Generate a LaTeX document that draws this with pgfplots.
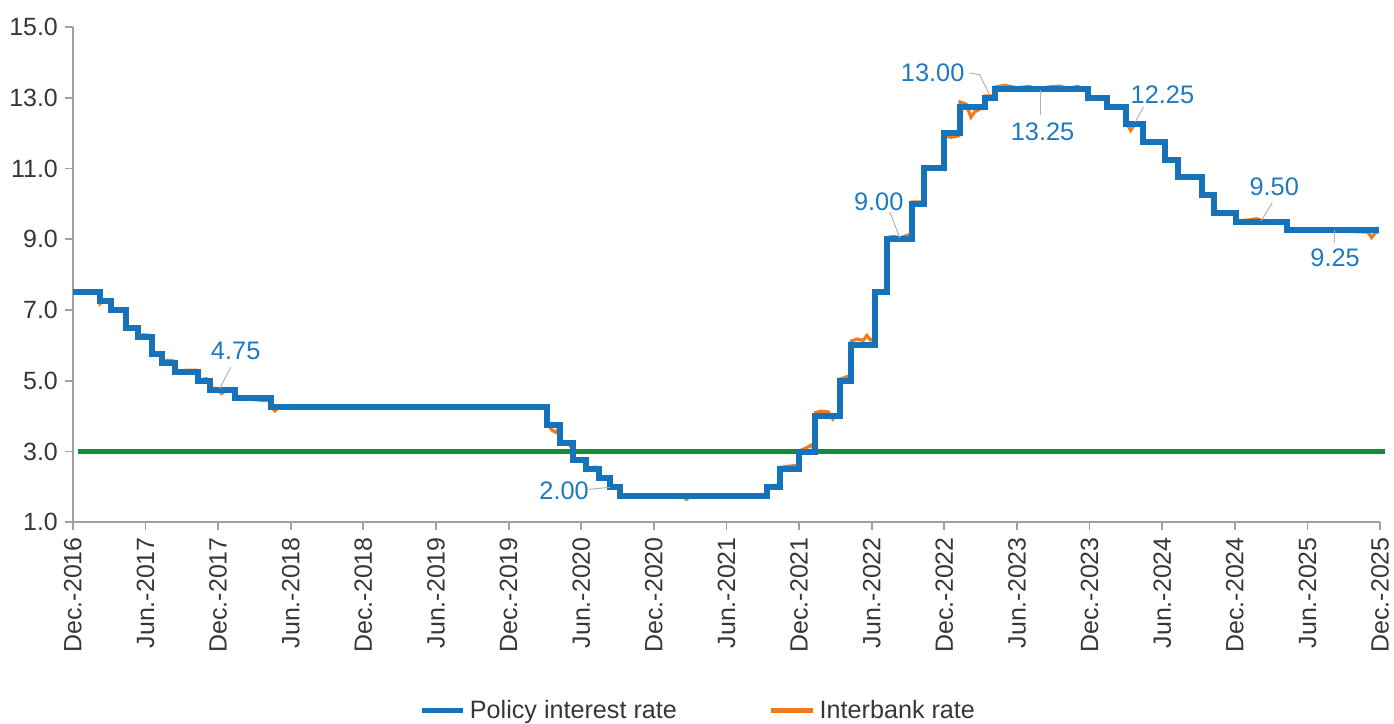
\documentclass[border=0pt]{standalone}
\usepackage{fontspec}
\setmainfont{Liberation Sans}
\usepackage{pgfplots}
\usepackage{pgfplotstable}
\pgfplotsset{compat=1.18}

\definecolor{policyblue}{RGB}{22,114,185}
\definecolor{notecolor}{RGB}{30,122,192}
\definecolor{ibkorange}{RGB}{240,122,28}
\definecolor{targetgreen}{RGB}{18,140,62}
\definecolor{axisgray}{RGB}{160,160,160}
\definecolor{labelgray}{RGB}{55,55,55}

% months after Dec-2016, rate in %
\pgfplotstableread{
m      r
0      7.50
2.23   7.25
3.14   7.00
4.37   6.50
5.36   6.25
6.52   5.75
7.34   5.50
8.42   5.25
10.31  5.00
11.30  4.75
13.37  4.50
16.34  4.25
39.19  3.75
40.26  3.25
41.34  2.75
42.41  2.50
43.48  2.25
44.39  2.00
45.21  1.75
57.34  2.00
58.42  2.50
59.98  3.00
61.30  4.00
63.37  5.00
64.27  6.00
66.25  7.50
67.24  9.00
69.31  10.00
70.30  11.00
71.95  12.00
73.27  12.75
75.33  13.00
76.16  13.25
83.91  13.00
85.40  12.75
87.05  12.25
88.45  11.75
90.26  11.25
91.34  10.75
93.32  10.25
94.31  9.75
96.12  9.50
100.33 9.25
107.9  9.25
}\policy

\pgfplotstableread{
m      r
0      7.52
2.2    7.52
2.25   7.18
2.5    7.25
3.1    7.25
3.16   7.02
4.35   7.00
4.4    6.52
5.3    6.50
5.4    6.25
5.8    6.30
6.4    6.28
6.55   5.78
7.3    5.75
7.38   5.52
7.8    5.58
8.3    5.56
8.45   5.27
9.5    5.30
10.2   5.30
10.35  5.02
11.0   5.06
11.28  5.02
11.35  4.75
12.0   4.72
12.3   4.64
12.6   4.72
13.3   4.74
13.4   4.50
14.5   4.48
15.5   4.45
16.3   4.43
16.4   4.25
16.7   4.15
17.0   4.25
20     4.27
25     4.26
30     4.27
35     4.26
39.1   4.26
39.25  3.75
39.6   3.60
39.9   3.54
40.2   3.70
40.3   3.25
41.0   3.20
41.2   3.12
41.38  2.76
42.1   2.80
42.38  2.76
42.45  2.52
43.2   2.56
43.45  2.52
43.5   2.26
44.35  2.25
44.42  2.02
45.15  2.00
45.25  1.76
48     1.75
50.4   1.72
50.7   1.65
51.0   1.74
54     1.77
57.3   1.77
57.4   2.03
58.38  2.05
58.45  2.55
59.0   2.58
59.6   2.60
59.95  2.58
60.02  3.02
60.6   3.10
61.0   3.18
61.28  3.05
61.35  4.10
61.8   4.14
62.4   4.12
62.8   3.92
63.0   4.05
63.33  4.05
63.4   5.05
64.0   5.12
64.25  5.10
64.3   6.12
64.8   6.18
65.3   6.14
65.6   6.28
65.9   6.15
66.2   6.20
66.28  7.52
67.2   7.55
67.28  9.05
67.8   9.08
68.4   9.04
69.0   9.12
69.28  9.08
69.35  10.05
70.28  10.05
70.35  11.00
71.9   10.98
72.0   11.95
72.5   11.88
73.2   11.92
73.3   12.88
73.8   12.82
74.2   12.45
74.5   12.60
75.3   12.75
75.38  13.05
76.1   13.05
76.2   13.30
77     13.35
78     13.28
79     13.32
80     13.20
80.5   13.30
81.5   13.33
82.3   13.26
83.0   13.32
83.85  13.22
83.95  12.97
85.3   12.97
85.45  12.76
87.0   12.75
87.1   12.25
87.4   12.08
87.7   12.24
88.4   12.24
88.5   11.76
90.2   11.75
90.3   11.26
91.3   11.26
91.4   10.76
93.3   10.76
93.35  10.26
94.3   10.25
94.35  9.76
96.1   9.76
96.15  9.52
97.3   9.55
97.8   9.58
98.3   9.52
100.3  9.50
100.35 9.26
103    9.24
104.2  9.30
105.5  9.22
107.0  9.20
107.3  9.05
107.6  9.18
107.9  9.22
}\interbank

\begin{document}
\begin{tikzpicture}
\useasboundingbox (-36.5pt,-101pt) rectangle (661.5pt,261.5pt);
\begin{axis}[
  scale only axis,
  width=654.5pt, height=248pt,
  xmin=0, xmax=108, ymin=1, ymax=15,
  axis x line*=bottom, axis y line*=left,
  axis line style={draw=axisgray, line width=0.9pt},
  xtick={0,6,...,108},
  xticklabels={Dec.-2016,Jun.-2017,Dec.-2017,Jun.-2018,Dec.-2018,Jun.-2019,Dec.-2019,Jun.-2020,Dec.-2020,Jun.-2021,Dec.-2021,Jun.-2022,Dec.-2022,Jun.-2023,Dec.-2023,Jun.-2024,Dec.-2024,Jun.-2025,Dec.-2025},
  ytick={1,3,...,15},
  tick align=outside,
  major tick length=4pt,
  tick style={draw=axisgray, line width=0.9pt},
  y tick label style={/pgf/number format/.cd, fixed, fixed zerofill, precision=1},
  /pgf/number format/assume math mode=true,
  tick label style={font=\fontsize{12.5}{14}\selectfont, text=labelgray},
  xticklabel style={rotate=90, anchor=east},
  clip=false,
  legend image code/.code={\draw[#1, line width=2.5pt] (0pt,0pt) -- (21pt,0pt);},
  legend style={at={(0.479,-0.381)}, anchor=center, draw=none,
    font=\fontsize{12.6}{14}\selectfont, text=labelgray,
    legend columns=2,
    /tikz/every even column/.append style={column sep=44pt}},
]
  \addplot[ibkorange, line width=1.6pt, forget plot] table[x=m, y=r]{\interbank};
  \addplot[targetgreen, line width=2.4pt, forget plot] coordinates {(0.4,3) (108.4,3)};
  \addplot[policyblue, line width=3pt, const plot, line join=miter] table[x=m, y=r]{\policy};
  \addlegendentry{Policy interest rate}
  \addlegendimage{ibkorange}
  \addlegendentry{Interbank rate}

  % annotations
  \begin{scope}[every node/.style={font=\fontsize{12.7}{14}\selectfont, text=notecolor}]
    \draw[axisgray!80, line width=0.5pt] (axis cs:13.04,5.38) -- (axis cs:12.13,4.78);
    \node at (axis cs:13.45,5.83) {4.75};
    \draw[axisgray!80, line width=0.5pt] (axis cs:42.66,1.93) -- (axis cs:44.39,1.99);
    \node at (axis cs:40.59,1.88) {2.00};
    \draw[axisgray!80, line width=0.5pt] (axis cs:67.49,9.78) -- (axis cs:68.32,9.04);
    \node at (axis cs:66.58,10.06) {9.00};
    \draw[axisgray!80, line width=0.5pt] (axis cs:74.09,13.70) -- (axis cs:74.92,13.65) -- (axis cs:75.74,13.08);
    \node at (axis cs:71.04,13.70) {13.00};
    \draw[axisgray!80, line width=0.5pt] (axis cs:79.95,13.22) -- (axis cs:79.95,12.52);
    \node at (axis cs:80.12,12.04) {13.25};
    \draw[axisgray!80, line width=0.5pt] (axis cs:88.45,12.74) -- (axis cs:87.79,12.32);
    \node at (axis cs:90.02,13.08) {12.25};
    \draw[axisgray!80, line width=0.5pt] (axis cs:99.09,10.03) -- (axis cs:98.18,9.52);
    \node at (axis cs:99.26,10.48) {9.50};
    \draw[axisgray!80, line width=0.5pt] (axis cs:104.21,9.27) -- (axis cs:104.21,8.90);
    \node at (axis cs:104.29,8.48) {9.25};
  \end{scope}
\end{axis}
\end{tikzpicture}
\end{document}
